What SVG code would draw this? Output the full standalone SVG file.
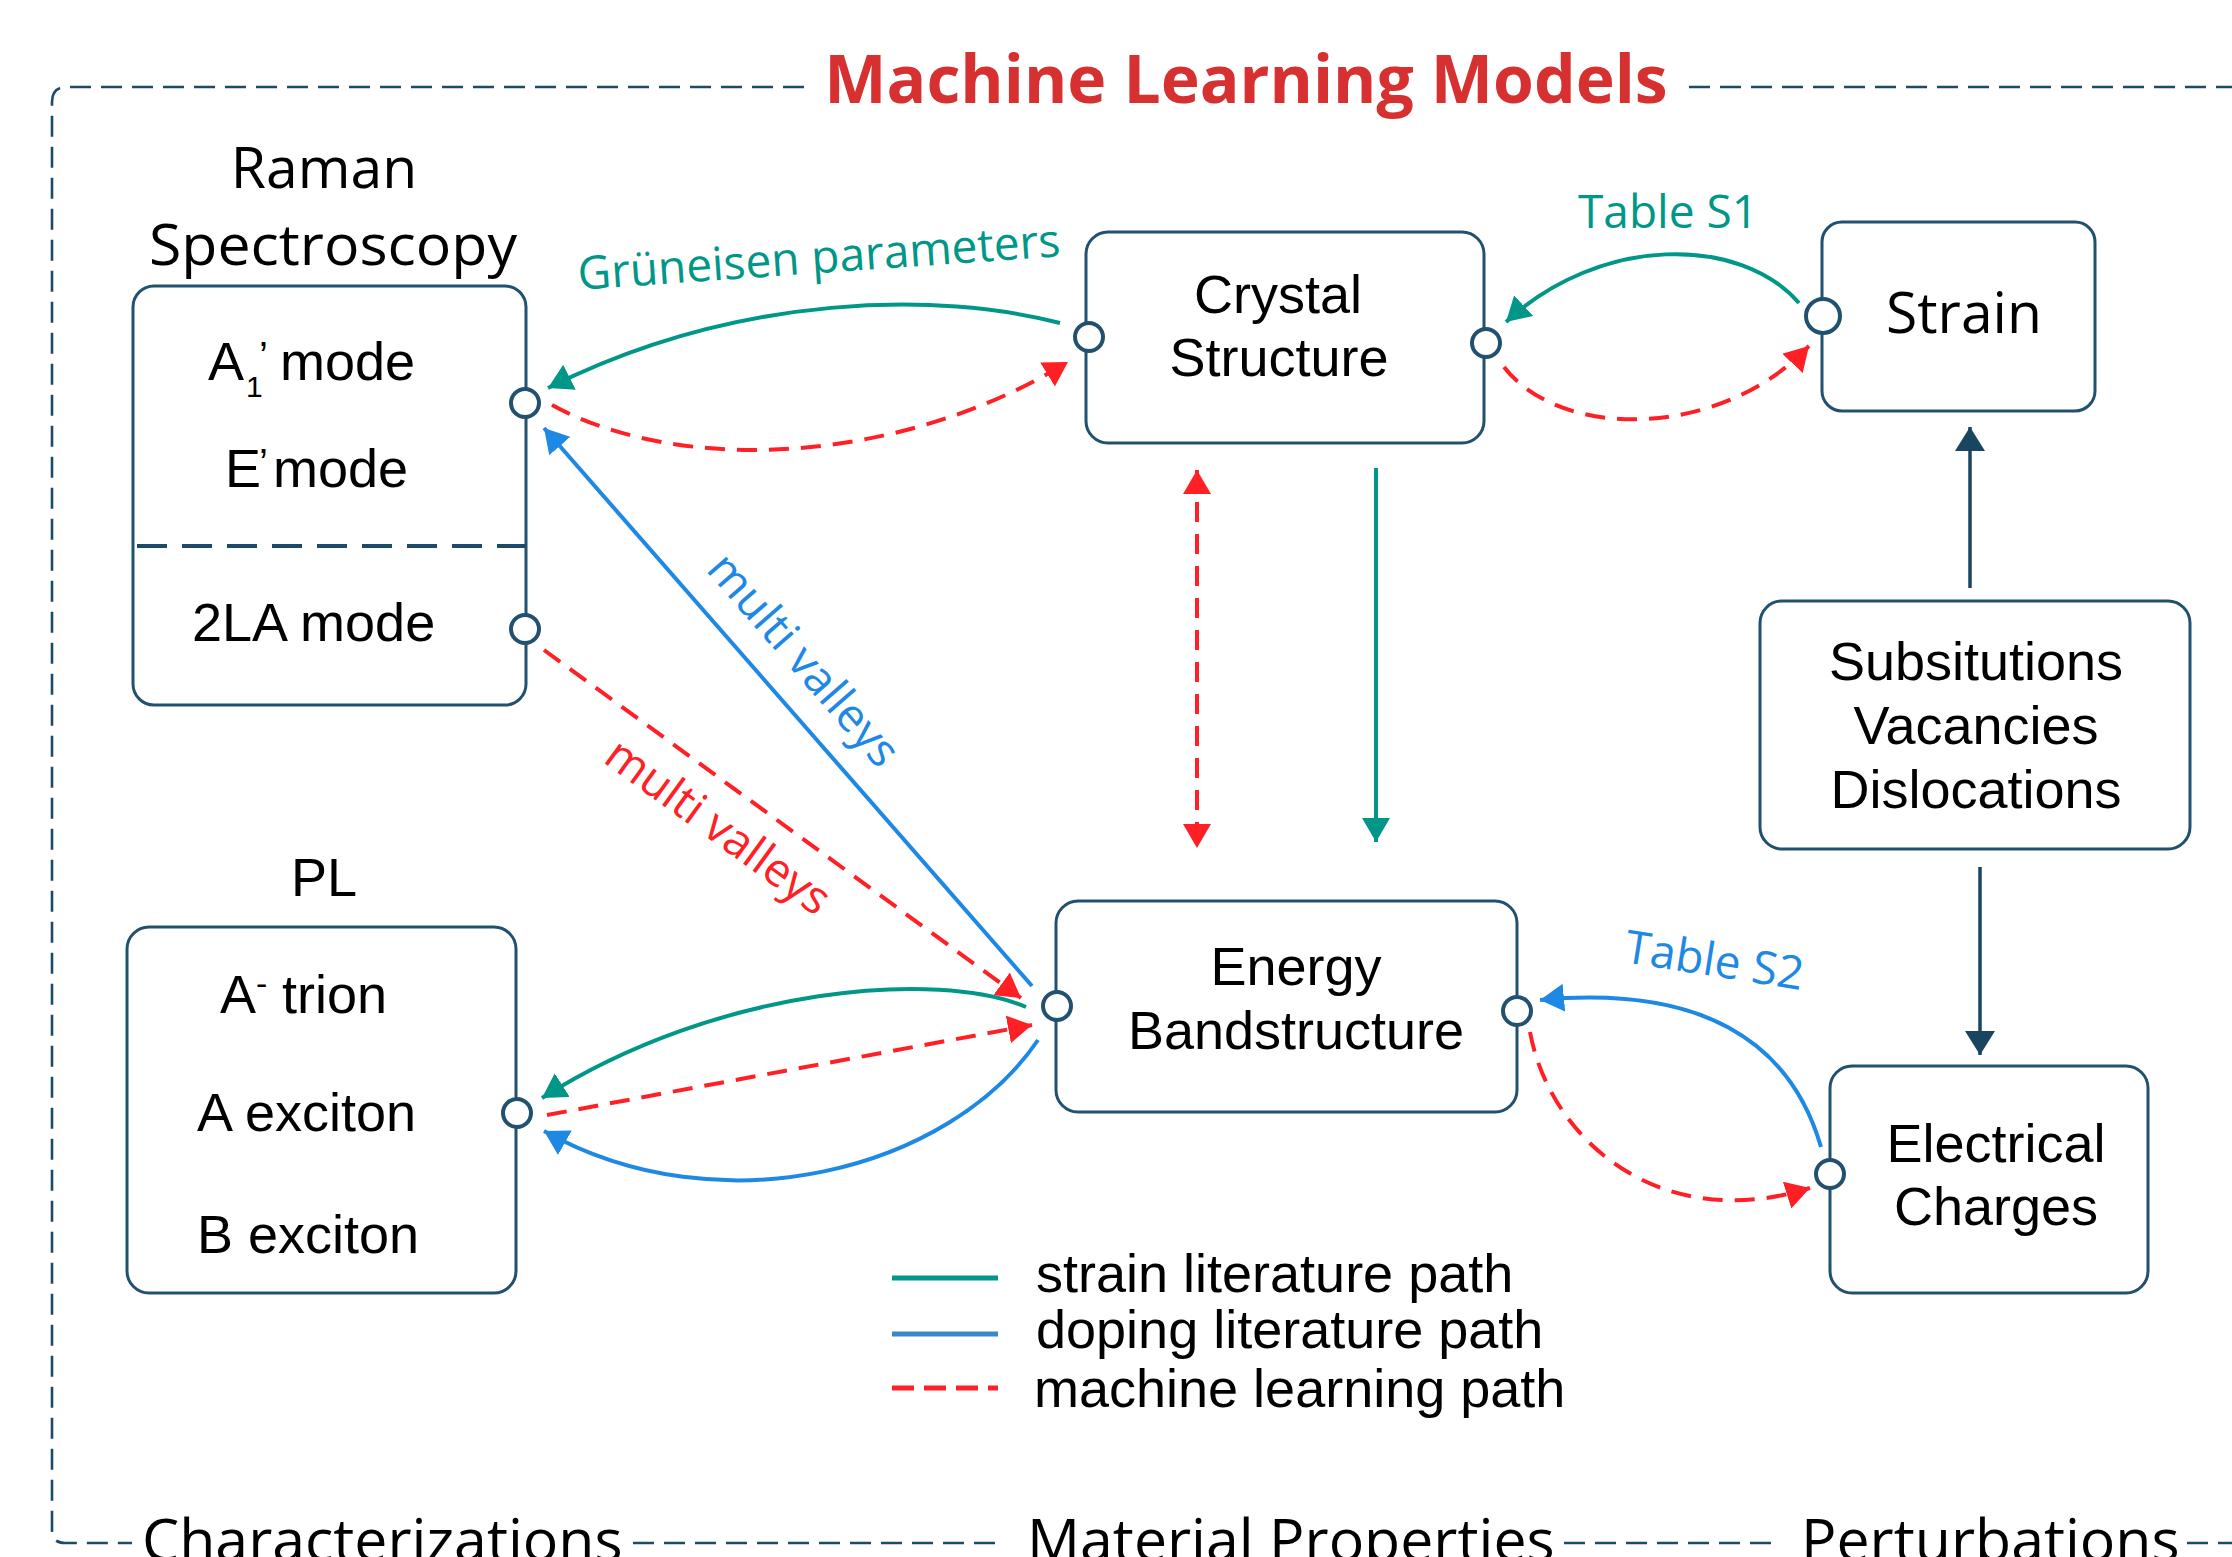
<svg xmlns="http://www.w3.org/2000/svg" width="2232" height="1557" viewBox="0 0 2232 1557">
<defs>
<style>
.box{fill:#fff;stroke:#22506f;stroke-width:3}
.port{fill:#fff;stroke:#22506f;stroke-width:4}
.frame{fill:none;stroke:#1d4a68;stroke-width:2.6;stroke-dasharray:21 10}
.lbl{font-family:"Liberation Sans",Arial,sans-serif;font-size:54px;fill:#000}
.hdr{font-family:"Open Sans","Noto Sans",sans-serif;font-size:57px;fill:#000}
.bot{font-family:"Open Sans","Noto Sans",sans-serif;font-size:59px;fill:#000}
.ann{font-family:"Open Sans","Noto Sans",sans-serif;font-size:46px}
.teal{fill:none;stroke:#009688;stroke-width:4}
.blue{fill:none;stroke:#1e88e5;stroke-width:4}
.red{fill:none;stroke:#ff2026;stroke-width:4;stroke-dasharray:20 12}
.navy{fill:none;stroke:#1a4561;stroke-width:3.5}
</style>
<marker id="aT" markerUnits="userSpaceOnUse" markerWidth="26" markerHeight="28" refX="24" refY="14" orient="auto"><path d="M0,0 L24,14 L0,28 z" fill="#009688"/></marker>
<marker id="aB" markerUnits="userSpaceOnUse" markerWidth="26" markerHeight="28" refX="24" refY="14" orient="auto"><path d="M0,0 L24,14 L0,28 z" fill="#1e88e5"/></marker>
<marker id="aR" markerUnits="userSpaceOnUse" markerWidth="26" markerHeight="28" refX="24" refY="14" orient="auto-start-reverse"><path d="M0,0 L24,14 L0,28 z" fill="#ff2026"/></marker>
<marker id="aN" markerUnits="userSpaceOnUse" markerWidth="26" markerHeight="30" refX="24" refY="15" orient="auto"><path d="M0,0 L24,15 L0,30 z" fill="#1a4561"/></marker>
</defs>
<rect width="2232" height="1557" fill="#fff"/>

<g id="frame">
<path class="frame" d="M804,87 L67,87 Q52,87 52,102 L52,1530 Q52,1543 65,1543 L132,1543"/>
<path class="frame" d="M1689,87 L2232,87"/>
<path class="frame" d="M633,1543 L1003,1543"/>
<path class="frame" d="M1564,1543 L1774,1543"/>
<path class="frame" d="M2187,1543 L2232,1543"/>
<text x="1246" y="103" text-anchor="middle" font-family="'Open Sans','Noto Sans',sans-serif" font-size="66" font-weight="bold" fill="#d63031">Machine Learning Models</text>
<text class="bot" x="142" y="1561">Characterizations</text>
<text class="bot" x="1027" y="1561">Material Properties</text>
<text class="bot" x="1801" y="1561">Perturbations</text>
</g>

<g id="connectors">
<path class="teal" d="M1060,323 C940,292 740,292 548,388" marker-end="url(#aT)"/>
<path class="red" d="M552,405 C680,475 900,465 1068,362" marker-end="url(#aR)"/>
<path class="teal" d="M1799,303 C1740,235 1600,235 1506,322" marker-end="url(#aT)"/>
<path class="red" d="M1504,367 C1560,440 1720,440 1809,346" marker-end="url(#aR)"/>
<path class="red" d="M1197,470 L1197,848" stroke-dasharray="18 12" marker-start="url(#aR)" marker-end="url(#aR)"/>
<path class="teal" d="M1376,468 L1376,842" stroke-width="3" marker-end="url(#aT)"/>
<path class="navy" d="M1970,588 L1970,427" marker-end="url(#aN)"/>
<path class="navy" d="M1980,867 L1980,1055" marker-end="url(#aN)"/>
<path class="blue" d="M1032,986 L544,428" stroke-width="3" marker-end="url(#aB)"/>
<path class="red" d="M544,650 L1021,998" stroke-width="3" stroke-dasharray="18 12" marker-end="url(#aR)"/>
<path class="teal" d="M1026,1007 C940,970 720,985 542,1098" marker-end="url(#aT)"/>
<path class="red" d="M547,1115 L1032,1025" marker-end="url(#aR)"/>
<path class="blue" d="M1038,1040 C950,1170 720,1230 544,1131" marker-end="url(#aB)"/>
<path class="blue" d="M1821,1147 C1790,1040 1700,985 1540,1000" marker-end="url(#aB)"/>
<path class="red" d="M1530,1032 C1550,1140 1660,1235 1810,1188" marker-end="url(#aR)"/>
<text class="ann" x="820" y="273" text-anchor="middle" fill="#009688" transform="rotate(-4 820 273)">Grüneisen parameters</text>
<text class="ann" x="1668" y="228" text-anchor="middle" fill="#009688">Table S1</text>
<text class="ann" x="1712" y="976" text-anchor="middle" fill="#1e88e5" transform="rotate(9 1712 976)">Table S2</text>
<text class="ann" x="792" y="670" text-anchor="middle" fill="#1e88e5" font-size="45" transform="rotate(49 792 670)">multi valleys</text>
<text class="ann" x="709" y="839" text-anchor="middle" fill="#ff2026" font-size="45" transform="rotate(36 709 839)">multi valleys</text>
</g>

<g id="raman">
<text class="hdr" x="324" y="188" text-anchor="middle">Raman</text>
<text class="hdr" x="333" y="265" text-anchor="middle" textLength="368" lengthAdjust="spacingAndGlyphs">Spectroscopy</text>
<rect class="box" x="133" y="286" width="393" height="419" rx="21"/>
<line x1="137" y1="546" x2="525" y2="546" stroke="#1d4a68" stroke-width="4" stroke-dasharray="30 15"/>
<text class="lbl"><tspan x="208" y="380">A</tspan><tspan x="246" y="397" font-size="30">1</tspan><tspan x="259" y="370" font-size="40">’</tspan><tspan x="280" y="380">mode</tspan></text>
<text class="lbl"><tspan x="225" y="487">E</tspan><tspan x="259" y="477" font-size="40">’</tspan><tspan x="273" y="487">mode</tspan></text>
<text class="lbl" x="192" y="641">2LA mode</text>
<circle class="port" cx="525" cy="403" r="14"/>
<circle class="port" cx="525" cy="629" r="14"/>
</g>

<g id="pl">
<text class="lbl" x="324" y="896" text-anchor="middle" font-size="56">PL</text>
<rect class="box" x="127" y="927" width="389" height="366" rx="22"/>
<text class="lbl"><tspan x="220" y="1013">A</tspan><tspan x="256" y="995" font-size="34">-</tspan><tspan x="282" y="1013">trion</tspan></text>
<text class="lbl" x="197" y="1131">A exciton</text>
<text class="lbl" x="197" y="1253">B exciton</text>
<circle class="port" cx="517" cy="1113" r="14"/>
</g>

<g id="crystal">
<rect class="box" x="1086" y="232" width="398" height="211" rx="22"/>
<text class="lbl" x="1278" y="313" text-anchor="middle">Crystal</text>
<text class="lbl" x="1279" y="376" text-anchor="middle">Structure</text>
<circle class="port" cx="1089" cy="337" r="14"/>
<circle class="port" cx="1486" cy="343" r="14"/>
</g>

<g id="energy">
<rect class="box" x="1056" y="901" width="461" height="211" rx="22"/>
<text class="lbl" x="1296" y="985" text-anchor="middle">Energy</text>
<text class="lbl" x="1296" y="1049" text-anchor="middle">Bandstructure</text>
<circle class="port" cx="1057" cy="1006" r="14"/>
<circle class="port" cx="1517" cy="1011" r="14"/>
</g>

<g id="strain">
<rect class="box" x="1822" y="222" width="273" height="189" rx="20"/>
<text class="hdr" x="1964" y="333" text-anchor="middle" font-size="54">Strain</text>
<circle class="port" cx="1823" cy="316" r="17"/>
</g>

<g id="defects">
<rect class="box" x="1760" y="601" width="430" height="248" rx="22"/>
<text class="lbl" x="1976" y="680" text-anchor="middle">Subsitutions</text>
<text class="lbl" x="1976" y="744" text-anchor="middle">Vacancies</text>
<text class="lbl" x="1976" y="808" text-anchor="middle">Dislocations</text>
</g>

<g id="charges">
<rect class="box" x="1830" y="1066" width="318" height="227" rx="22"/>
<text class="lbl" x="1996" y="1162" text-anchor="middle">Electrical</text>
<text class="lbl" x="1996" y="1225" text-anchor="middle">Charges</text>
<circle class="port" cx="1830" cy="1174" r="14"/>
</g>

<g id="legend">
<line x1="892" y1="1278" x2="998" y2="1278" stroke="#009688" stroke-width="5"/>
<line x1="892" y1="1334" x2="998" y2="1334" stroke="#3a88c8" stroke-width="5"/>
<line x1="892" y1="1388" x2="998" y2="1388" stroke="#ff2026" stroke-width="5" stroke-dasharray="22 10"/>
<text class="lbl" x="1036" y="1292">strain literature path</text>
<text class="lbl" x="1036" y="1348">doping literature path</text>
<text class="lbl" x="1034" y="1407">machine learning path</text>
</g>
</svg>
